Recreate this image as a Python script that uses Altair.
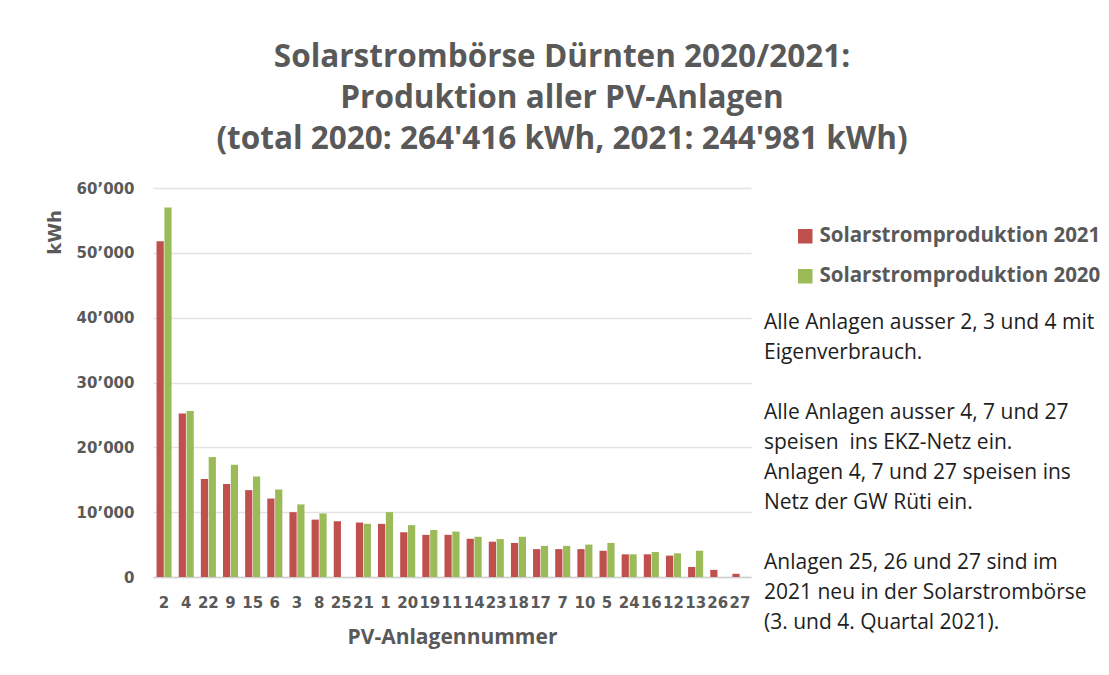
import altair as alt
import pandas as pd

categories = ["2", "4", "22", "9", "15", "6", "3", "8", "25", "21", "1", "20", "19", "11",
              "14", "23", "18", "17", "7", "10", "5", "24", "16", "12", "13", "26", "27"]
prod_2021 = [51800, 25200, 15100, 14350, 13400, 12100, 10000, 8850, 8600, 8400, 8200, 6900,
             6500, 6500, 5900, 5450, 5250, 4300, 4300, 4300, 4050, 3500, 3500, 3300, 1550, 1100, 500]
prod_2020 = [57000, 25600, 18500, 17300, 15500, 13500, 11200, 9800, 0, 8200, 10000, 8000,
             7250, 7000, 6200, 5850, 6200, 4800, 4800, 5000, 5250, 3500, 3850, 3650, 4050, 0, 0]
series_names = ["Solarstromproduktion 2021", "Solarstromproduktion 2020"]
series_colors = ["#c0504d", "#9bbb59"]
y_ticks = [0, 10000, 20000, 30000, 40000, 50000, 60000]

title_lines = ["Solarstrombörse Dürnten 2020/2021:",
               "Produktion aller PV-Anlagen",
               "(total 2020: 264'416 kWh, 2021: 244'981 kWh)"]
note_block1 = ["Alle Anlagen ausser 2, 3 und 4 mit",
               "Eigenverbrauch."]
note_block2 = ["Alle Anlagen ausser 4, 7 und 27",
               "speisen\u00a0 ins EKZ-Netz ein.",
               "Anlagen 4, 7 und 27 speisen ins",
               "Netz der GW Rüti ein."]
note_block3 = ["Anlagen 25, 26 und 27 sind im",
               "2021 neu in der Solarstrombörse",
               "(3. und 4. Quartal 2021)."]

rows = []
for c, a, b in zip(categories, prod_2021, prod_2020):
    rows.append({"Anlage": c, "Serie": series_names[0], "kWh": a})
    rows.append({"Anlage": c, "Serie": series_names[1], "kWh": b})
df = pd.DataFrame(rows)

GRAY = "#595959"

bars = alt.Chart(df).mark_bar().encode(
    x=alt.X("Anlage:N", sort=categories,
            scale=alt.Scale(paddingInner=0.32, paddingOuter=0.16),
            axis=alt.Axis(title="PV-Anlagennummer", labelAngle=0, ticks=False,
                          domain=True, domainColor="#d0d0d0", domainWidth=1.5,
                          labelFont="DejaVu Sans", labelFontWeight="bold", labelFontSize=15,
                          labelColor=GRAY, labelPadding=18,
                          titleFont="Open Sans", titleFontWeight="bold", titleFontSize=21,
                          titleColor=GRAY, titleY=66, titleBaseline="alphabetic")),
    xOffset=alt.XOffset("Serie:N", sort=series_names,
                        scale=alt.Scale(paddingInner=0.08)),
    y=alt.Y("kWh:Q", scale=alt.Scale(domain=[0, 60000]),
            axis=alt.Axis(values=y_ticks, title="kWh", domain=False, ticks=False,
                          gridColor="#e3e3e3", gridWidth=1.5,
                          labelExpr="replace(format(datum.value, ','), ',', '\u2019')",
                          labelFont="DejaVu Sans", labelFontWeight="bold", labelFontSize=15,
                          labelColor=GRAY, labelPadding=19,
                          titleFont="DejaVu Sans", titleFontWeight="bold", titleFontSize=18,
                          titleColor=GRAY, titleX=-98, titleY=44, titleAngle=270,
                          titleAlign="center", titleBaseline="middle")),
    color=alt.Color("Serie:N", sort=series_names,
                    scale=alt.Scale(domain=series_names, range=series_colors),
                    legend=alt.Legend(title=None, orient="none", legendX=642, legendY=38,
                                      symbolType="square", symbolSize=210,
                                      symbolStrokeWidth=0, labelFont="Open Sans",
                                      labelFontWeight="bold", labelFontSize=20.5,
                                      labelLimit=0,
                                      labelColor=GRAY, labelOffset=4, rowPadding=19)),
)


def note(lines, ypos):
    return alt.Chart(pd.DataFrame({"n": [0]})).mark_text(
        text=lines, align="left", baseline="alphabetic", font="Open Sans",
        fontSize=21, lineHeight=30.1, color="#1e1e1e"
    ).encode(x=alt.value(611), y=alt.value(ypos))


notes1 = note(note_block1, 141)
notes2 = note(note_block2, 231)
notes3 = note(note_block3, 381)

chart = alt.layer(bars, notes1, notes2, notes3).properties(
    width=598, height=389,
    autosize=alt.AutoSizeParams(type="none"),
    padding={"left": 145, "top": 180, "right": 350, "bottom": 90},
    title=alt.Title(text=title_lines, font="Open Sans", fontWeight="bold", fontSize=31.5,
                    color=GRAY, lineHeight=41, anchor="middle", dx=110, dy=-22),
    background="white",
).configure_view(stroke=None)

chart.save("out.html", embed_options={"renderer": "svg", "actions": False})
